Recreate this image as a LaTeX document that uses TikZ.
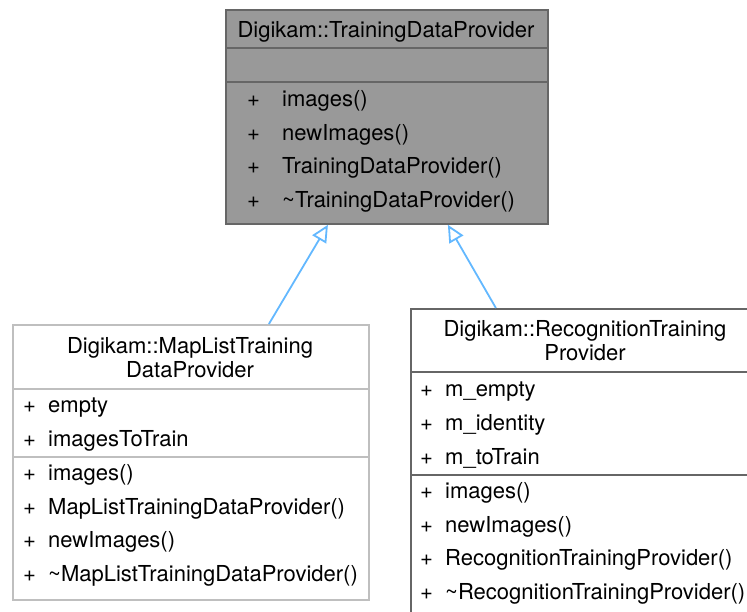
\documentclass[tikz,border=0pt]{standalone}
\usepackage{fontspec}
\setmainfont{TeX Gyre Heros}
\usetikzlibrary{arrows.meta}
\definecolor{bfill}{HTML}{999999}
\definecolor{bdark}{HTML}{666666}
\definecolor{blight}{HTML}{BFBFBF}
\definecolor{arr}{HTML}{63B8FF}
\tikzset{
  cls/.style={draw, line width=1.8pt, anchor=north west, inner sep=0pt, fill=white},
  divd/.style={line width=1.8pt},
  txt/.style={anchor=base west, inner sep=0pt, font=\fontsize{22}{26}\selectfont},
  ttl/.style={anchor=base, inner sep=0pt, font=\fontsize{22}{26}\selectfont},
  inh/.style={draw=arr, line width=1.8pt, -{Triangle[open, fill=white, length=17pt, width=16pt]}}
}
\begin{document}
\begin{tikzpicture}[x=1pt,y=-1pt]
\useasboundingbox (0,0) rectangle (747,611);
\clip (0,0) rectangle (747,611);
% base class
\node[cls, draw=bdark, fill=bfill, minimum width=322pt, minimum height=214pt] (base) at (225,9) {};
\draw[divd, bdark] (225,48) -- (547,48);
\draw[divd, bdark] (225,82) -- (547,82);
\node[ttl] (bt) at (386,37) {Digikam::TrainingDataProvider};
\foreach \y/\t [count=\i] in {106/images(), 140/newImages(), 173/TrainingDataProvider(), 207/\textasciitilde TrainingDataProvider()} {
  \node[txt] (bp\i) at (247,\y) {+};
  \node[txt] (bm\i) at (282,\y) {\t};
}
% MapList class
\node[cls, draw=blight, minimum width=356pt, minimum height=275pt] (mlt) at (12,324) {};
\draw[divd, blight] (12,389) -- (368,389);
\draw[divd, blight] (12,457) -- (368,457);
\node[ttl] (mt1) at (190,353) {Digikam::MapListTraining};
\node[ttl] (mt2) at (190,377) {DataProvider};
\foreach \y/\t [count=\i] in {412/empty, 446/imagesToTrain, 480/images(), 514/MapListTrainingDataProvider(), 547/newImages(), 581/\textasciitilde MapListTrainingDataProvider()} {
  \node[txt] (mp\i) at (23,\y) {+};
  \node[txt] (mm\i) at (48,\y) {\t};
}
% Recognition class
\node[cls, draw=bdark, minimum width=350pt, minimum height=320pt] (rtp) at (410,308) {};
\draw[divd, bdark] (410,372) -- (760,372);
\draw[divd, bdark] (410,475) -- (760,475);
\node[ttl] (rt1) at (585,336.5) {Digikam::RecognitionTraining};
\node[ttl] (rt2) at (585,360.5) {Provider};
\foreach \y/\t [count=\i] in {396/m\_empty, 430/m\_identity, 464/m\_toTrain, 498/images(), 532/newImages(), 565/RecognitionTrainingProvider(), 599/\textasciitilde RecognitionTrainingProvider()} {
  \node[txt] (rp\i) at (420,\y) {+};
  \node[txt] (rm\i) at (445,\y) {\t};
}
% inheritance arrows
\coordinate (a1s) at ([xshift=78pt]mlt.north);
\coordinate (a1e) at ([xshift=-59pt]base.south);
\coordinate (a2s) at ([xshift=-90pt]rtp.north);
\coordinate (a2e) at ([xshift=61pt]base.south);
\draw[inh] (a1s) -- (a1e);
\draw[inh] (a2s) -- (a2e);
\end{tikzpicture}
\end{document}
